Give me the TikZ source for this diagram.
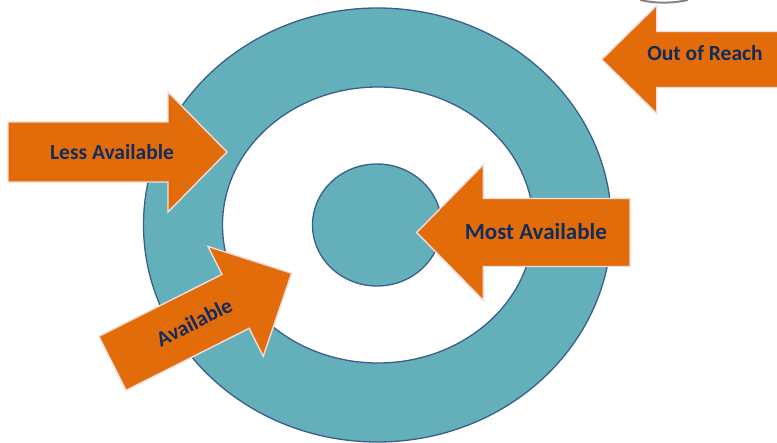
\documentclass[tikz,border=0pt]{standalone}
\usepackage{fontspec}
\setmainfont{Carlito}
\usetikzlibrary{shapes.geometric}
\definecolor{ringteal}{HTML}{63AFBA}
\definecolor{ringedge}{HTML}{3A5F8E}
\definecolor{arrorange}{HTML}{E36C0A}
\definecolor{arredge}{HTML}{F2DCDB}
\definecolor{labelnavy}{HTML}{122C5A}
\tikzset{
  ringshape/.style={ellipse, draw=ringedge, line width=1.3pt, inner sep=0pt},
  blockarr/.style={fill=arrorange, draw=arredge, line width=1.4pt, line join=miter},
  arrlabel/.style={text=labelnavy, font=\bfseries\fontsize{21.5}{25}\selectfont, inner sep=0pt},
  biglabel/.style={arrlabel, font=\bfseries\fontsize{23}{27}\selectfont},
}
% #1 length, #2 shaft half width, #3 head half width, #4 head length
\newcommand{\blockarrowpath}[4]{%
  \draw[blockarr] (0,-#2) -- ({#1-#4},-#2) -- ({#1-#4},-#3) -- (#1,0)
    -- ({#1-#4},#3) -- ({#1-#4},#2) -- (0,#2) -- cycle;}
\begin{document}
\begin{tikzpicture}[x=1pt,y=-1pt]
\useasboundingbox (0,0) rectangle (777,443);
\clip (0,0) rectangle (777,443);
% faint shadow at the top edge
\draw[gray!80!black, line width=2pt, opacity=0.8] (640,0) .. controls (655,3.5) and (672,3.5) .. (688,0);
% rings
\node[ringshape, fill=ringteal, minimum width=468pt, minimum height=434pt] (outer) at (377.5,225) {};
\node[ringshape, fill=white, minimum width=311pt, minimum height=276pt] (middle) at (378,225) {};
\node[ringshape, fill=ringteal, minimum width=129pt, minimum height=122pt] (core) at (377,225) {};
% Less Available
\begin{scope}[shift={(8,152)}]
  \blockarrowpath{219}{30}{60}{59}
  \node[arrlabel] (less) at (104,0) {Less Available};
\end{scope}
% Available
\begin{scope}[shift={(112.5,363.3)}, rotate=26.7]
  \blockarrowpath{200.5}{30.2}{61.5}{62.7}
  \node[arrlabel, rotate=26.7] (avail) at (91.3,0) {Available};
\end{scope}
% Most Available
\begin{scope}[shift={(630,232.5)}, rotate=180]
  \blockarrowpath{213.3}{34}{68}{66.7}
  \node[biglabel] (most) at (94.2,0.5) {Most Available};
\end{scope}
% Out of Reach
\begin{scope}[shift={(790,59.5)}, rotate=180]
  \blockarrowpath{188.3}{28}{54}{55}
  \node[arrlabel] (reach) at (85,6) {Out of Reach};
\end{scope}
\end{tikzpicture}
\end{document}
